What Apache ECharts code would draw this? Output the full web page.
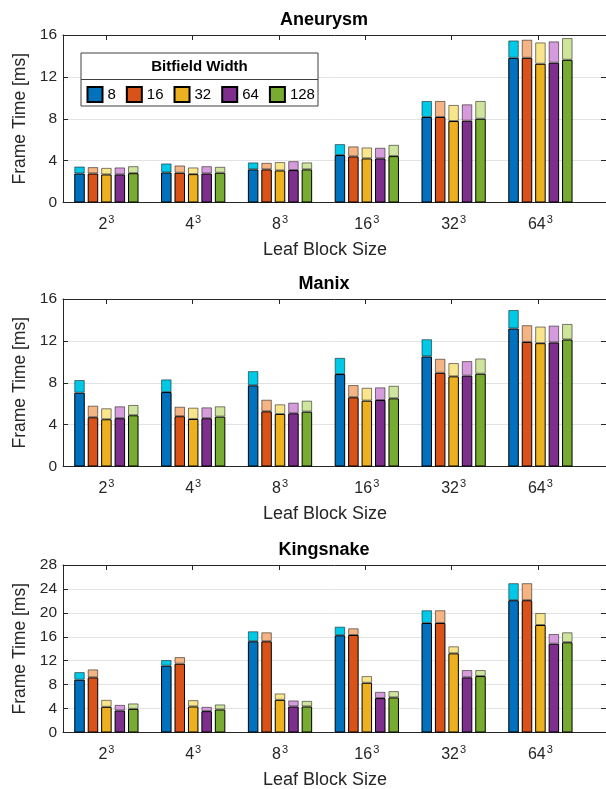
<!DOCTYPE html>
<html lang="en">
<head>
<meta charset="UTF-8">
<title>Frame Time vs Leaf Block Size</title>
<script src="https://cdn.jsdelivr.net/npm/echarts@6/dist/echarts.min.js"></script>
<style>html,body{margin:0;padding:0;background:#fff}</style>
</head>
<body>
<div id="main" style="width:606px;height:789px;"></div>
<script>
// leaf block sizes (base of the cube), bitfield widths
const blockBase = ['2', '4', '8', '16', '32', '64'];
const widths = ['8', '16', '32', '64', '128'];

// one row per bitfield width, one column per block size
// "lower" = dark part of the bar, "total" = full bar height
const aneurysmLower = [
  [2.77, 2.87, 3.16, 4.53, 8.17, 13.82],
  [2.77, 2.84, 3.16, 4.40, 8.17, 13.82],
  [2.68, 2.71, 3.06, 4.21, 7.78, 13.25],
  [2.68, 2.77, 3.10, 4.21, 7.81, 13.35],
  [2.80, 2.84, 3.16, 4.43, 8.00, 13.63]
];
const aneurysmTotal = [
  [3.44, 3.73, 3.83, 5.58, 9.70, 15.48],
  [3.38, 3.54, 3.79, 5.36, 9.70, 15.55],
  [3.31, 3.35, 3.86, 5.26, 9.32, 15.29],
  [3.35, 3.47, 3.95, 5.23, 9.38, 15.39],
  [3.47, 3.41, 3.83, 5.51, 9.70, 15.71]
];
const manixLower = [
  [7.05, 7.11, 7.75, 8.83, 10.51, 13.18],
  [4.70, 4.80, 5.27, 6.61, 8.95, 11.90],
  [4.51, 4.54, 5.02, 6.29, 8.61, 11.78],
  [4.61, 4.61, 5.08, 6.35, 8.67, 11.85],
  [4.89, 4.76, 5.24, 6.51, 8.86, 12.13]
];
const manixTotal = [
  [8.26, 8.32, 9.11, 10.38, 12.16, 14.95],
  [5.81, 5.71, 6.38, 7.78, 10.29, 13.50],
  [5.56, 5.62, 5.94, 7.52, 9.88, 13.37],
  [5.75, 5.65, 6.10, 7.56, 10.07, 13.46],
  [5.88, 5.75, 6.29, 7.71, 10.32, 13.62]
];
const kingsnakeLower = [
  [8.82, 11.16, 15.24, 16.25, 18.31, 22.11],
  [9.21, 11.49, 15.24, 16.30, 18.31, 22.11],
  [4.29, 4.35, 5.46, 8.31, 13.23, 17.97],
  [3.68, 3.57, 4.35, 5.75, 9.21, 14.84],
  [3.95, 3.85, 4.35, 5.86, 9.43, 15.08]
];
const kingsnakeTotal = [
  [10.10, 12.11, 16.92, 17.69, 20.44, 24.96],
  [10.55, 12.61, 16.75, 17.42, 20.44, 24.96],
  [5.46, 5.41, 6.53, 9.43, 14.41, 19.98],
  [4.62, 4.29, 5.36, 6.80, 10.44, 16.47],
  [4.86, 4.69, 5.29, 6.92, 10.44, 16.75]
];
const yMax = [16, 16, 28];

const darkColors = ['#0072BD', '#D95319', '#EDB120', '#7E2F8E', '#77AC30'];
const lightColors = ['#00C9E8', '#F4B483', '#F9E58C', '#D69BDA', '#CFE49D'];

const panels = [
  { title: 'Aneurysm', lower: aneurysmLower, total: aneurysmTotal, top: 35 },
  { title: 'Manix', lower: manixLower, total: manixTotal, top: 299 },
  { title: 'Kingsnake', lower: kingsnakeLower, total: kingsnakeTotal, top: 565 }
];

const font = 'Liberation Sans, Arial, Helvetica, sans-serif';
const axisColor = '#262626';
const plotH = 167.5;
const ticks = [1, 2, 3, 4, 5, 6];
// the axes box runs past the right edge of the picture (cropped figure)
const boxMax = 6.79;
const unit = 546 / (boxMax - 0.5);

var myChart = echarts.init(document.getElementById('main'));

let grids = [], xAxes = [], yAxes = [], series = [], graphics = [];

panels.forEach((p, pi) => {
  // grid for the bars: 6 categories, each one "unit" wide
  let barGrid = grids.length;
  grids.push({ left: 63, width: 6 * unit, top: p.top, height: plotH });
  // grid for the box, grid lines and ticks
  let boxGrid = grids.length;
  grids.push({ left: 63, right: -3, top: p.top, height: plotH });

  let bx = xAxes.length;
  xAxes.push({
    type: 'category', gridIndex: barGrid, data: blockBase,
    axisLine: { show: false }, axisTick: { show: false },
    axisLabel: {
      margin: 12,
      formatter: v => '{b|' + v + '}{s|3}',
      rich: {
        b: { fontFamily: font, fontSize: 16, color: axisColor },
        s: { fontFamily: font, fontSize: 11, color: axisColor, verticalAlign: 'bottom', padding: [0, 0, 10, 1] }
      }
    },
    splitLine: { show: false }
  });
  let by = yAxes.length;
  yAxes.push({ type: 'value', gridIndex: barGrid, min: 0, max: yMax[pi], interval: 4, show: false });

  // box edges
  ['bottom', 'top'].forEach(pos => {
    xAxes.push({
      type: 'value', gridIndex: boxGrid, min: 0.5, max: boxMax, position: pos,
      axisLine: { show: true, onZero: false, lineStyle: { color: axisColor, width: 1 } },
      axisTick: { show: true, inside: true, length: 5, customValues: ticks, lineStyle: { color: axisColor } },
      axisLabel: { show: false },
      splitLine: { show: false }
    });
  });
  yAxes.push({
    type: 'value', gridIndex: boxGrid, min: 0, max: yMax[pi], interval: 4,
    name: 'Frame Time [ms]', nameLocation: 'middle', nameGap: 31,
    nameTextStyle: { fontFamily: font, fontSize: 17.5, color: axisColor },
    axisLine: { show: true, lineStyle: { color: axisColor, width: 1 } },
    axisTick: { show: true, inside: true, length: 5, lineStyle: { color: axisColor } },
    axisLabel: { fontFamily: font, fontSize: 15.5, color: axisColor, margin: 6 },
    splitLine: { show: true, lineStyle: { color: '#e3e3e3', width: 1 } }
  });
  yAxes.push({
    type: 'value', gridIndex: boxGrid, min: 0, max: yMax[pi], interval: 4, position: 'right',
    axisLine: { show: true, lineStyle: { color: axisColor } },
    axisTick: { show: true, inside: true, length: 5, lineStyle: { color: axisColor } },
    axisLabel: { show: false },
    splitLine: { show: false }
  });

  widths.forEach((w, wi) => {
    let lower = p.lower[wi], total = p.total[wi];
    series.push({
      type: 'bar', name: w, xAxisIndex: bx, yAxisIndex: by,
      stack: 'p' + pi + 'w' + wi, barWidth: 10.5, barGap: '28%',
      itemStyle: { color: darkColors[wi], borderColor: '#000', borderWidth: 1 },
      data: lower
    });
    series.push({
      type: 'bar', name: w + ' extra', xAxisIndex: bx, yAxisIndex: by,
      stack: 'p' + pi + 'w' + wi, barWidth: 10.5, barGap: '28%',
      itemStyle: { color: lightColors[wi], borderColor: 'rgba(0,0,0,0.5)', borderWidth: 1 },
      data: total.map((v, i) => +(v - lower[i]).toFixed(2))
    });
  });

  graphics.push({
    type: 'text', x: 324, y: p.top - 15,
    style: { text: p.title, font: 'bold 18px ' + font, fill: '#000', textAlign: 'center', textVerticalAlign: 'middle' }
  });
  graphics.push({
    type: 'text', x: 325, y: p.top + plotH + 48,
    style: { text: 'Leaf Block Size', font: '18px ' + font, fill: axisColor, textAlign: 'center', textVerticalAlign: 'middle' }
  });
});

// legend box with its heading
graphics.push({
  type: 'rect', z: 3, shape: { x: 81, y: 53, width: 237, height: 53 },
  style: { fill: '#fff', stroke: '#404040', lineWidth: 1 }
});
graphics.push({
  type: 'line', z: 3, shape: { x1: 81, y1: 79.5, x2: 318, y2: 79.5 },
  style: { stroke: '#404040', lineWidth: 1 }
});
graphics.push({
  type: 'text', z: 4, x: 199.5, y: 66.5,
  style: { text: 'Bitfield Width', font: 'bold 15px ' + font, fill: '#000', textAlign: 'center', textVerticalAlign: 'middle' }
});

var option = {
  animation: false,
  grid: grids,
  xAxis: xAxes,
  yAxis: yAxes,
  legend: {
    data: widths, left: 86.5, top: 86, padding: 0, z: 5,
    orient: 'horizontal', icon: 'rect', itemWidth: 15, itemHeight: 15, itemGap: 10,
    textStyle: { fontFamily: font, fontSize: 15, color: '#000' }
  },
  graphic: graphics,
  series: series
};
myChart.setOption(option);
</script>
</body>
</html>
